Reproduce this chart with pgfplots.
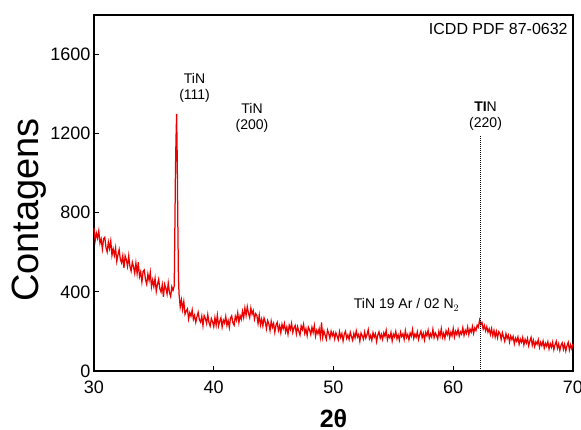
\documentclass[border=0pt]{standalone}
\usepackage{pgfplots}
\pgfplotsset{compat=1.18}
\usepackage{fontspec}
\setmainfont{Liberation Sans}

\begin{document}
\begin{tikzpicture}
\begin{axis}[
    name=ax,
    scale only axis,
    width=479pt, height=356pt,
    xmin=30, xmax=70, ymin=0, ymax=1800,
    xtick={30,40,50,60,70},
    ytick={0,400,800,1200,1600},
    tick align=inside,
    xtick pos=bottom, ytick pos=left,
    major tick length=5pt,
    axis line style={line width=1.3pt},
    tick style={line width=1pt, black},
    /pgf/number format/assume math mode=true,
    /pgf/number format/1000 sep={},
    ticklabel style={font=\fontsize{18}{20}\selectfont},
    xticklabel style={yshift=-6pt},
    xlabel={\textbf{2θ}},
    xlabel style={font=\fontsize{25}{27}\selectfont, inner sep=0pt, at={(axis description cs:0.5,-0.135)}, anchor=center},
    ylabel={Contagens},
    ylabel style={font=\fontsize{38}{40}\selectfont, at={(axis description cs:-0.135,0.452)}, anchor=center},
    clip=false,
]
\addplot[red!92!black, line width=1.25pt] coordinates {
(30.0,723)(30.1,659)(30.2,696)(30.3,671)(30.4,708)(30.5,646)(30.6,667)(30.7,617)(30.8,669)(30.9,676)
(31.0,625)(31.1,602)(31.2,651)(31.3,619)(31.4,658)(31.5,585)(31.6,617)(31.7,584)(31.8,622)(31.9,555)
(32.0,588)(32.1,614)(32.2,564)(32.3,547)(32.4,582)(32.5,521)(32.6,582)(32.7,562)(32.8,529)(32.9,582)
(33.0,530)(33.1,505)(33.2,550)(33.3,527)(33.4,494)(33.5,546)(33.6,493)(33.7,550)(33.8,477)(33.9,501)
(34.0,450)(34.1,504)(34.2,511)(34.3,462)(34.4,439)(34.5,490)(34.6,458)(34.7,499)(34.8,426)(34.9,460)
(35.0,427)(35.1,468)(35.2,402)(35.3,438)(35.4,464)(35.5,416)(35.6,399)(35.7,436)(35.8,375)(35.9,438)
(36.0,418)(36.1,389)(36.2,445)(36.3,397)(36.4,377)(36.5,426)(36.6,407)(36.7,430)(36.75,700)(36.8,1000)
(36.85,1180)(36.9,1300)(36.95,1080)(37.0,750)(37.05,480)(37.1,390)
(37.2,324)(37.3,360)(37.4,311)(37.5,351)(37.6,287)(37.7,303)(37.8,314)(37.9,263)(38.0,295)(38.1,277)
(38.2,309)(38.3,261)(38.4,281)(38.5,246)(38.6,275)(38.7,297)(38.8,259)(38.9,247)(39.0,277)(39.1,229)
(39.2,280)(39.3,265)(39.4,241)(39.5,285)(39.6,245)(39.7,227)(39.8,265)(39.9,249)(40.0,224)(40.1,270)
(40.2,232)(40.3,282)(40.4,228)(40.5,251)(40.6,269)(40.7,222)(40.8,257)(40.9,242)(41.0,276)(41.1,231)
(41.2,255)(41.3,220)(41.4,268)(41.5,279)(41.6,244)(41.7,232)(41.8,277)(41.9,257)(42.0,294)(42.1,245)
(42.2,280)(42.3,262)(42.4,302)(42.5,270)(42.6,318)(42.7,281)(42.8,325)(42.9,292)(43.0,270)(43.1,318)
(43.2,287)(43.3,305)(43.4,262)(43.5,290)(43.6,281)(43.7,240)(43.8,283)(43.9,233)(44.0,262)(44.1,228)
(44.2,268)(44.3,249)(44.4,214)(44.5,255)(44.6,238)(44.7,205)(44.8,252)(44.9,221)(45.0,241)(45.1,196)
(45.2,232)(45.3,246)(45.4,205)(45.5,229)(45.6,193)(45.7,236)(45.8,214)(45.9,240)(46.0,198)(46.1,222)
(46.2,186)(46.3,231)(46.4,210)(46.5,241)(46.6,195)(46.7,218)(46.8,230)(46.9,188)(47.0,224)(47.1,202)
(47.2,182)(47.3,228)(47.4,209)(47.5,236)(47.6,190)(47.7,213)(47.8,179)(47.9,222)(48.0,208)(48.1,184)
(48.2,221)(48.3,195)(48.4,230)(48.5,176)(48.6,206)(48.7,188)(48.8,214)(48.9,172)(49.0,245)(49.1,170)
(49.2,203)(49.3,181)(49.4,160)(49.5,207)(49.6,190)(49.7,165)(49.8,201)(49.9,178)(50.0,195)(50.1,162)
(50.2,193)(50.3,176)(50.4,158)(50.5,199)(50.6,170)(50.7,189)(50.8,152)(50.9,186)(51.0,201)(51.1,165)
(51.2,182)(51.3,160)(51.4,196)(51.5,174)(51.6,155)(51.7,190)(51.8,168)(51.9,203)(52.0,172)(52.1,185)
(52.2,150)(52.3,192)(52.4,178)(52.5,161)(52.6,197)(52.7,166)(52.8,184)(52.9,209)(53.0,163)(53.1,180)
(53.2,155)(53.3,194)(53.4,171)(53.5,188)(53.6,149)(53.7,183)(53.8,198)(53.9,166)(54.0,185)(54.1,160)
(54.2,193)(54.3,175)(54.4,205)(54.5,158)(54.6,181)(54.7,168)(54.8,195)(54.9,152)(55.0,186)(55.1,172)
(55.2,200)(55.3,163)(55.4,182)(55.5,156)(55.6,196)(55.7,174)(55.8,188)(55.9,160)(56.0,204)(56.1,170)
(56.2,185)(56.3,158)(56.4,192)(56.5,176)(56.6,210)(56.7,165)(56.8,187)(56.9,171)(57.0,198)(57.1,160)
(57.2,184)(57.3,202)(57.4,168)(57.5,190)(57.6,157)(57.7,195)(57.8,178)(57.9,206)(58.0,166)(58.1,188)
(58.2,172)(58.3,211)(58.4,169)(58.5,193)(58.6,180)(58.7,162)(58.8,200)(58.9,176)(59.0,214)(59.1,170)
(59.2,191)(59.3,165)(59.4,203)(59.5,183)(59.6,208)(59.7,168)(59.8,196)(59.9,178)(60.0,215)(60.1,172)
(60.2,201)(60.3,184)(60.4,210)(60.5,176)(60.6,198)(60.7,186)(60.8,219)(60.9,180)(61.0,206)(61.1,190)
(61.2,222)(61.3,184)(61.4,212)(61.5,196)(61.6,225)(61.7,190)(61.8,218)(61.9,205)(62.0,232)(62.1,222)
(62.2,258)(62.3,236)(62.4,245)(62.5,212)(62.6,230)(62.7,203)(62.8,224)(62.9,196)(63.0,213)(63.1,185)
(63.2,214)(63.3,178)(63.4,205)(63.5,172)(63.6,200)(63.7,168)(63.8,199)(63.9,190)(64.0,160)(64.1,194)
(64.2,172)(64.3,150)(64.4,188)(64.5,164)(64.6,181)(64.7,147)(64.8,177)(64.9,158)(65.0,175)(65.1,138)
(65.2,166)(65.3,150)(65.4,172)(65.5,135)(65.6,161)(65.7,145)(65.8,170)(65.9,132)(66.0,160)(66.1,141)
(66.2,165)(66.3,128)(66.4,152)(66.5,170)(66.6,130)(66.7,155)(66.8,124)(66.9,148)(67.0,135)(67.1,158)
(67.2,120)(67.3,145)(67.4,128)(67.5,152)(67.6,116)(67.7,140)(67.8,125)(67.9,148)(68.0,112)(68.1,138)
(68.2,120)(68.3,146)(68.4,108)(68.5,133)(68.6,150)(68.7,115)(68.8,137)(68.9,104)(69.0,130)(69.1,142)
(69.2,110)(69.3,135)(69.4,102)(69.5,128)(69.6,145)(69.7,106)(69.8,132)(69.9,112)(70.0,138)
};
\draw[densely dotted, line width=1pt] (axis cs:62.3,0) -- (axis cs:62.3,1190);
\node[font=\fontsize{14}{16}\selectfont, align=center] at (axis cs:38.4,1430) {TiN\\(111)};
\node[font=\fontsize{14}{16}\selectfont, align=center] at (axis cs:43.2,1280) {TiN\\(200)};
\node[font=\fontsize{14}{16}\selectfont, align=center] at (axis cs:62.7,1290) {\textbf{TI}N\\(220)};
\node[font=\fontsize{16}{18}\selectfont, anchor=north east] at (axis cs:69.85,1775) {ICDD PDF 87-0632};
\node[font=\fontsize{14}{16}\selectfont] at (axis cs:56.1,334) {TiN 19 Ar / 02 N$_{2}$};
\end{axis}
\pgfresetboundingbox
\path ([xshift=-94pt,yshift=-59pt]ax.south west) rectangle ++(581pt,430pt);
\end{tikzpicture}
\end{document}
